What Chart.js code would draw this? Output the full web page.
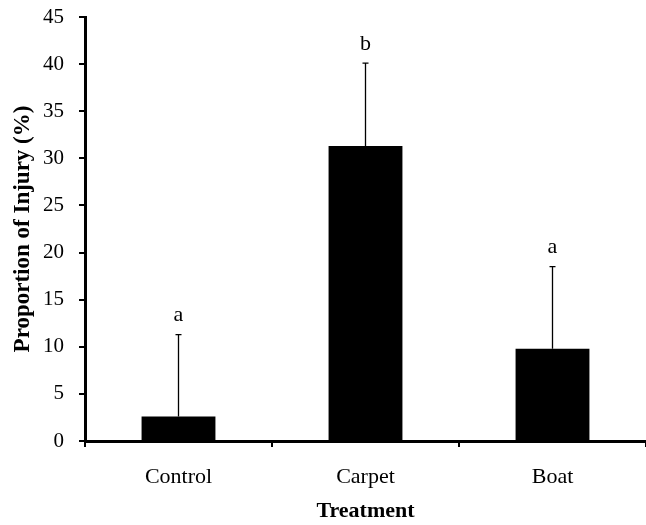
<!DOCTYPE html>
<html>
<head>
<meta charset="utf-8">
<script src="https://cdn.jsdelivr.net/npm/chart.js@4"></script>
<style>
  html, body { margin: 0; padding: 0; background: #fff; }
  #wrap { width: 646px; height: 525px; }
</style>
</head>
<body>
<div id="wrap"><canvas id="injuryChart" width="646" height="525"></canvas></div>
<script>
// data
var treatments = ['Control', 'Carpet', 'Boat'];
var injuryMeans = [2.6, 31.3, 9.8];
var errorUpper = [11.3, 40.1, 18.5];
var groupLetters = ['a', 'b', 'a'];
var yTicks = [0, 5, 10, 15, 20, 25, 30, 35, 40, 45];

var serif = '"Liberation Serif", "Times New Roman", serif';

// error bars (upper only) + significance letters
const errorBarPlugin = {
    id: 'errorBars',
    afterDatasetsDraw(chart) {
        var ctx = chart.ctx;
        var x = chart.scales.x;
        var y = chart.scales.y;
        ctx.save();
        ctx.strokeStyle = '#000';
        ctx.lineWidth = 1.3;
        for (let i = 0; i < treatments.length; i++) {
            var px = x.getPixelForValue(i);
            var yBase = y.getPixelForValue(injuryMeans[i]);
            var yTop = y.getPixelForValue(errorUpper[i]);
            ctx.beginPath();
            ctx.moveTo(px, yBase);
            ctx.lineTo(px, yTop);
            ctx.moveTo(px - 3, yTop);
            ctx.lineTo(px + 3, yTop);
            ctx.stroke();

            ctx.fillStyle = '#000';
            ctx.font = '22px ' + serif;
            ctx.textAlign = 'center';
            ctx.textBaseline = 'bottom';
            ctx.fillText(groupLetters[i], px, yTop - 8);
        }
        ctx.restore();
    }
};

var ctx = document.getElementById('injuryChart').getContext('2d');

var myChart = new Chart(ctx, {
    type: 'bar',
    data: {
        labels: treatments,
        datasets: [{
            data: injuryMeans,
            backgroundColor: '#000',
            borderWidth: 0,
            barPercentage: 0.395,
            categoryPercentage: 1.0,
        }]
    },
    options: {
        responsive: false,
        animation: false,
        layout: {
            padding: { top: 17, left: 0, right: 0, bottom: 0 }
        },
        plugins: {
            legend: { display: false },
            tooltip: { enabled: false },
        },
        scales: {
            x: {
                afterFit: function (scale) {
                    scale.height = 84;
                    scale.paddingLeft = 0;
                    scale.paddingRight = 0;
                },
                border: { display: true, color: '#000', width: 3 },
                grid: {
                    display: true,
                    drawOnChartArea: false,
                    drawTicks: true,
                    tickLength: 6,
                    color: '#000',
                    lineWidth: 2,
                    offset: true,
                },
                ticks: {
                    color: '#000',
                    padding: 17,
                    font: { family: serif, size: 22 },
                },
                title: {
                    display: true,
                    text: 'Treatment',
                    color: '#000',
                    padding: { top: 0, bottom: 0 },
                    font: { family: serif, size: 22, weight: 'bold' },
                },
            },
            y: {
                min: 0,
                max: 45,
                afterFit: function (scale) {
                    scale.width = 85;
                    scale.paddingTop = 0;
                    scale.paddingBottom = 0;
                },
                afterBuildTicks: function (scale) {
                    scale.ticks = yTicks.map(v => ({ value: v }));
                },
                border: { display: true, color: '#000', width: 3 },
                grid: {
                    display: true,
                    drawOnChartArea: false,
                    drawTicks: true,
                    tickLength: 6,
                    color: '#000',
                    lineWidth: 2,
                },
                ticks: {
                    color: '#000',
                    padding: 15,
                    font: { family: serif, size: 21 },
                },
                title: {
                    display: true,
                    text: 'Proportion of Injury (%)',
                    color: '#000',
                    padding: { top: 9, bottom: 0 },
                    font: { family: serif, size: 23, weight: 'bold' },
                },
            },
        },
    },
    plugins: [errorBarPlugin],
});
</script>
</body>
</html>
